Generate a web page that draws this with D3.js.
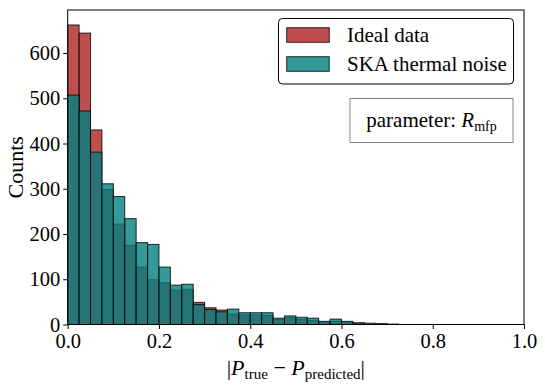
<!DOCTYPE html>
<html>
<head>
<meta charset="utf-8">
<script src="https://cdn.jsdelivr.net/npm/d3@7"></script>
<style>
  html, body { margin: 0; padding: 0; background: #fff; }
  svg { display: block; }
  text { font-family: "Liberation Serif", "DejaVu Serif", serif; fill: #000; }
</style>
</head>
<body>
<svg id="chart" width="545" height="387"></svg>
<script>
// ---- data ----
const binEdgesStart = 0.0;
const binWidth = 0.025;
const idealCounts = [662, 644, 430, 298, 222, 175, 127, 99, 92, 76,
                     77, 49, 37, 32, 23, 21, 21, 20, 11, 15,
                     11, 9, 5, 7, 5, 4, 3, 2, 1, 0,
                     0, 0, 0, 0, 0, 0, 0, 0, 0, 0];
const skaCounts = [507, 472, 381, 311, 283, 234, 181, 177, 127, 87,
                   89, 44, 33, 28, 34, 26, 26, 26, 14, 19,
                   16, 14, 7, 12, 7, 1, 0, 0, 0, 0,
                   0, 0, 0, 0, 0, 0, 0, 0, 0, 0];
const seriesNames = ["Ideal data", "SKA thermal noise"];
const xTicks = [0.0, 0.2, 0.4, 0.6, 0.8, 1.0];
const yTicks = [0, 100, 200, 300, 400, 500, 600];

// ---- layout ----
const svg = d3.select("#chart");
const L = 67.7, R = 524, T = 10, B = 324.5;
const colors = ["rgb(178,34,34)", "rgb(0,128,128)"];

const x = d3.scaleLinear().domain([0, 1]).range([L, R]);
const ymax = d3.max(idealCounts.concat(skaCounts)) * 1.05;
const y = d3.scaleLinear().domain([0, ymax]).range([B, T]);

const series = [idealCounts, skaCounts];
series.forEach((counts, si) => {
  const data = counts.map((c, i) => ({ x0: binEdgesStart + i * binWidth, x1: binEdgesStart + (i + 1) * binWidth, c }))
                     .filter(d => d.c > 0);
  svg.append("g").selectAll("rect").data(data).join("rect")
    .attr("x", d => x(d.x0))
    .attr("y", d => y(d.c))
    .attr("width", d => x(d.x1) - x(d.x0))
    .attr("height", d => y(0) - y(d.c))
    .attr("fill", colors[si])
    .attr("fill-opacity", 0.8)
    .attr("stroke", "#000")
    .attr("stroke-opacity", 0.8)
    .attr("stroke-width", 1);
});

// frame
svg.append("rect").attr("x", L).attr("y", T).attr("width", R - L).attr("height", B - T)
  .attr("fill", "none").attr("stroke", "#000").attr("stroke-width", 1);

// axes
const xAxis = d3.axisBottom(x).tickValues(xTicks).tickFormat(d3.format(".1f")).tickSize(4.5).tickPadding(4);
const gx = svg.append("g").attr("transform", `translate(0,${B})`).call(xAxis);
gx.select(".domain").remove();
gx.selectAll("text").attr("font-size", 20.5).attr("font-family", "Liberation Serif");

const yAxis = d3.axisLeft(y).tickValues(yTicks).tickSize(4.5).tickPadding(3);
const gy = svg.append("g").attr("transform", `translate(${L},0)`).call(yAxis);
gy.select(".domain").remove();
gy.selectAll("text").attr("font-size", 20.5).attr("font-family", "Liberation Serif").attr("dy", "0.32em");

// y label
svg.append("text").attr("transform", `translate(23,${(T + B) / 2}) rotate(-90)`)
  .attr("text-anchor", "middle").attr("font-size", 22).text("Counts");

// x label
const xl = svg.append("text").attr("x", (L + R) / 2).attr("y", 375).attr("text-anchor", "middle").attr("font-size", 22);
xl.append("tspan").text("|");
xl.append("tspan").attr("font-style", "italic").text("P");
xl.append("tspan").attr("font-size", 15).attr("dy", 4).text("true");
xl.append("tspan").attr("dy", -4).text(" \u2212 ");
xl.append("tspan").attr("font-style", "italic").text("P");
xl.append("tspan").attr("font-size", 15).attr("dy", 4).text("predicted");
xl.append("tspan").attr("dy", -4).text("|");

// legend
const lg = svg.append("g");
lg.append("rect").attr("x", 278.5).attr("y", 18.5).attr("width", 235).attr("height", 65.5)
  .attr("rx", 4).attr("fill", "#fff").attr("stroke", "#000").attr("stroke-width", 1);
seriesNames.forEach((name, i) => {
  const yy = 27.7 + i * 29;
  lg.append("rect").attr("x", 286.7).attr("y", yy).attr("width", 42.6).attr("height", 14.6)
    .attr("fill", colors[i]).attr("fill-opacity", 0.8)
    .attr("stroke", "#000").attr("stroke-opacity", 0.8).attr("stroke-width", 1);
  lg.append("text").attr("x", 347).attr("y", yy + 14.6).attr("font-size", 21).text(name);
});

// parameter box
svg.append("rect").attr("x", 350).attr("y", 98.5).attr("width", 163).attr("height", 44)
  .attr("fill", "#fff").attr("stroke", "#888").attr("stroke-width", 1);
const pt = svg.append("text").attr("x", 431.5).attr("y", 127).attr("text-anchor", "middle").attr("font-size", 21);
pt.append("tspan").text("parameter: ");
pt.append("tspan").attr("font-style", "italic").text("R");
pt.append("tspan").attr("font-size", 14).attr("dy", 4).text("mfp");
</script>
</body>
</html>
